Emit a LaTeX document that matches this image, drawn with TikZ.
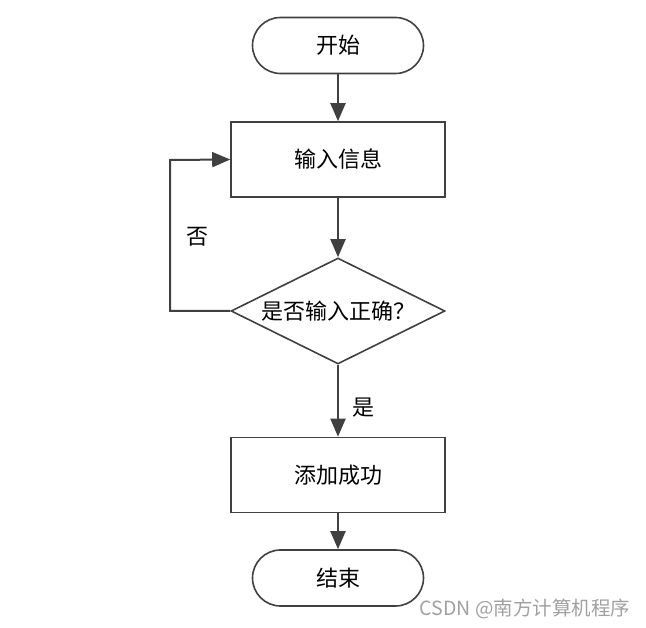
\documentclass[tikz,border=0pt]{standalone}
\usepackage{fontspec}
\setmainfont{Noto Sans CJK SC}
\usetikzlibrary{arrows.meta,shapes.geometric}
\definecolor{ln}{HTML}{404040}
\definecolor{wm}{HTML}{A0A0A0}
\begin{document}
\begin{tikzpicture}[x=1pt,y=-1pt,
  base/.style={draw=ln,line width=1.6pt,fill=white,font=\fontsize{22}{26}\selectfont,inner sep=0pt},
  term/.style={base,minimum width=171pt,minimum height=56pt,rounded corners=28pt},
  proc/.style={base,minimum width=214pt,minimum height=75pt},
  dec/.style={base,diamond,aspect=2,minimum width=214pt,minimum height=106pt},
  arr/.style={draw=ln,line width=2pt,-{Triangle[width=15pt,length=18pt]}},
  lbl/.style={font=\fontsize{22}{26}\selectfont,inner sep=0pt}]
\useasboundingbox (0,0) rectangle (646,628);
\node[term] (start) at (338,45.5) {开始};
\node[proc] (input) at (338,159.5) {输入信息};
\node[dec] (check) at (338,311) {是否输入正确？};
\node[proc] (ok) at (338,475) {添加成功};
\node[term] (end) at (338,578) {结束};
\coordinate (c1) at (170,311);
\coordinate (c2) at (170,160);
\draw[arr] (start) -- (input);
\draw[arr] (input) -- (check);
\draw[arr] (check) -- (ok);
\draw[arr] (ok) -- (end);
\draw[arr,line join=miter] (check.west) -- (c1) -- (c2) -- (input.west);
\node[lbl] (no) at (197,237) {否};
\node[lbl] (yes) at (363,408) {是};
\node[font=\fontsize{19.5}{22}\selectfont,text=wm,inner sep=0pt] (wmk) at (525,609) {CSDN @南方计算机程序};
\end{tikzpicture}
\end{document}
